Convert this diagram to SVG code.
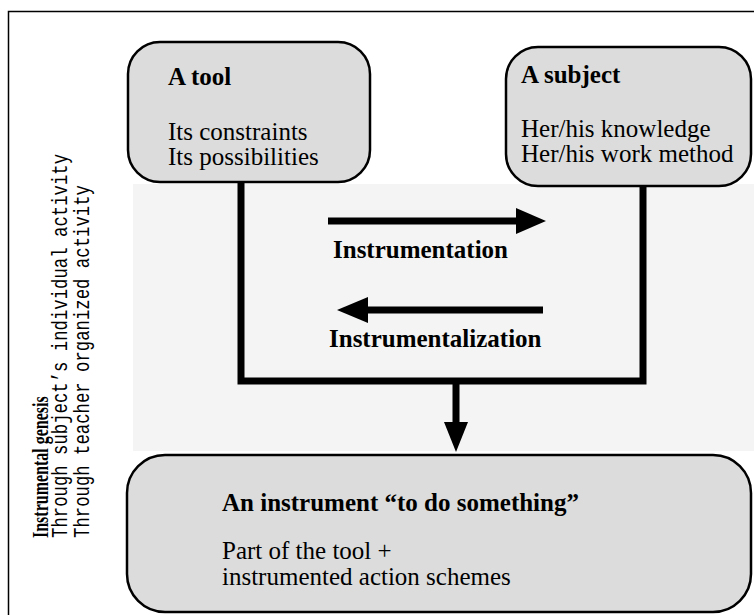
<svg xmlns="http://www.w3.org/2000/svg" width="754" height="615" viewBox="0 0 754 615">
<defs>
<style>
.box{fill:#dcdcdc;stroke:#000;stroke-width:2.5}
.t{font-family:"Liberation Serif","Times New Roman",serif;font-size:25px;fill:#000}
.b{font-weight:bold}
.side{font-family:"Liberation Mono","Courier New",monospace;font-size:17.3px;fill:#000}
.sideb{font-family:"Liberation Serif","Times New Roman",serif;font-size:16px;font-weight:bold;fill:#000}
.conn{fill:none;stroke:#000;stroke-width:7}
</style>
</defs>
<rect width="754" height="615" fill="#fff"/>
<rect x="8.5" y="11.5" width="760" height="620" fill="none" stroke="#000" stroke-width="1.5"/>
<rect x="133" y="184" width="621" height="267" fill="#f4f4f4"/>
<g id="side-label">
<text class="sideb" transform="translate(48,538) rotate(-90) scale(1,1.4)">Instrumental genesis</text>
<text class="side" transform="translate(67,538) rotate(-90) scale(1,1.25)">Through subject’s individual activity</text>
<text class="side" transform="translate(89,538) rotate(-90) scale(1,1.25)">Through teacher organized activity</text>
</g>
<g id="tool">
<rect class="box" x="128" y="42" width="242" height="140" rx="32" ry="32"/>
<text class="t b" x="168" y="85">A tool</text>
<text class="t" x="168" y="140">Its constraints</text>
<text class="t" x="168" y="165">Its possibilities</text>
</g>
<g id="subject">
<rect class="box" x="506" y="47" width="245" height="139" rx="32" ry="32"/>
<text class="t b" x="521" y="83">A subject</text>
<text class="t" x="521" y="137">Her/his knowledge</text>
<text class="t" x="521" y="162">Her/his work method</text>
</g>
<g id="instrument">
<rect class="box" x="127" y="455" width="624" height="157" rx="38" ry="38"/>
<text class="t b" x="222" y="511">An instrument “to do something”</text>
<text class="t" x="222" y="559">Part of the tool +</text>
<text class="t" x="222" y="585">instrumented action schemes</text>
</g>
<g id="connectors">
<polyline class="conn" points="241,182 241,381 643,381 643,186"/>
<line class="conn" x1="456" y1="381" x2="456" y2="424" stroke-width="6"/>
<polygon points="444,422 468,422 456,452"/>
<line class="conn" x1="328" y1="221" x2="518" y2="221"/>
<polygon points="516,208 546,221 516,234"/>
<line class="conn" x1="366" y1="310" x2="543" y2="310"/>
<polygon points="368,297 337,310 368,323"/>
<text class="t b" x="333" y="258">Instrumentation</text>
<text class="t b" x="329" y="347">Instrumentalization</text>
</g>
</svg>
